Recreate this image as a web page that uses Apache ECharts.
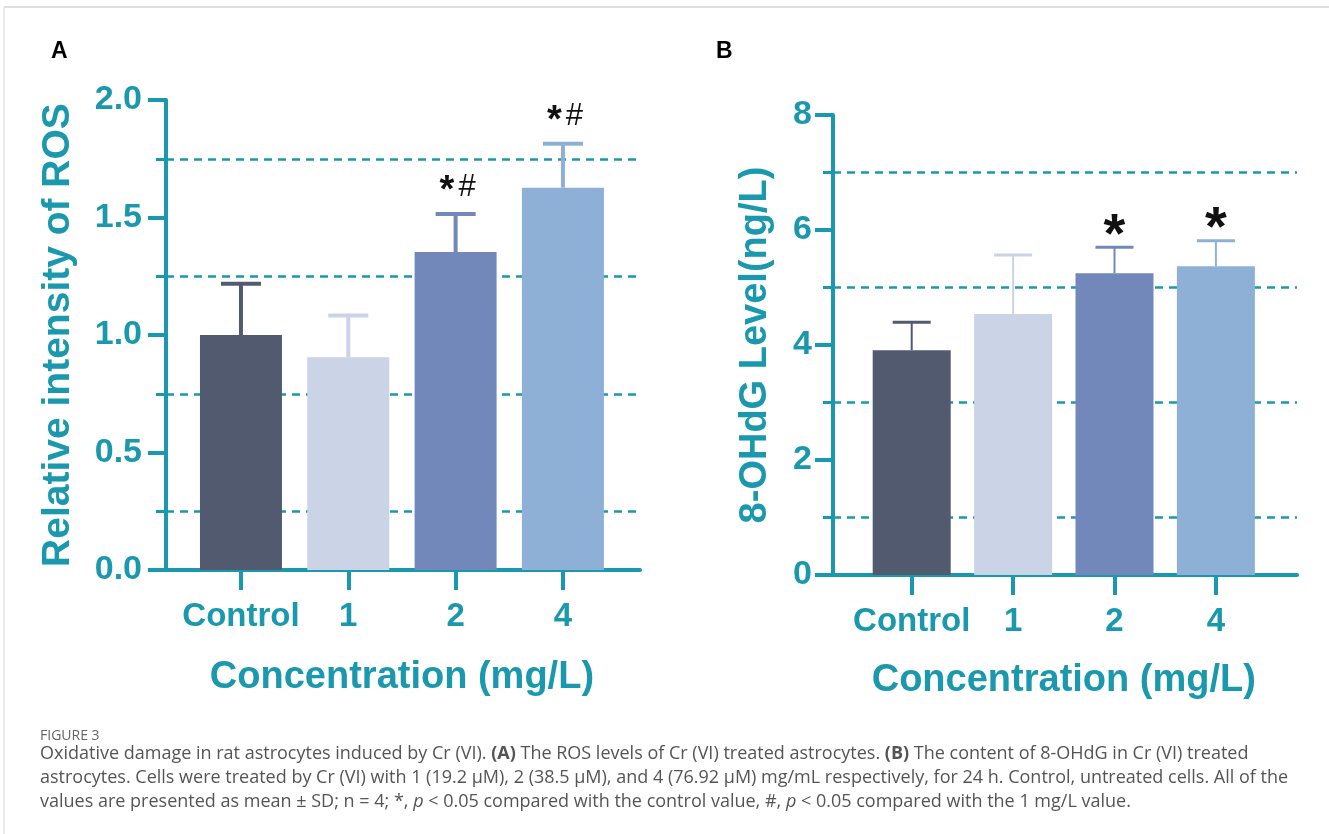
<!DOCTYPE html>
<html>
<head>
<meta charset="utf-8">
<script src="https://cdn.jsdelivr.net/npm/echarts@6/dist/echarts.min.js"></script>
<style>
html,body{margin:0;padding:0;background:#fff;}
#main{width:1329px;height:834px;}
</style>
</head>
<body>
<div id="main"></div>
<script>
// ---------------- data ----------------
const categories = ['Control', '1', '2', '4'];
const rosMean = [1.0, 0.905, 1.353, 1.627];
const rosSD = [0.218, 0.178, 0.162, 0.187];
const rosMarks = ['', '', '*#', '*#'];
const rosTicks = [0, 0.5, 1.0, 1.5, 2.0];

const ohdgMean = [3.91, 4.54, 5.25, 5.37];
const ohdgSD = [0.485, 1.025, 0.45, 0.445];
const ohdgMarks = ['', '', '*', '*'];
const ohdgTicks = [0, 2, 4, 6, 8];

const barColors = ['#525a70', '#cbd3e7', '#7287ba', '#8fb0d6'];
const teal = '#1a98ad';
const FONT = '"Liberation Sans", Arial, sans-serif';
const CAP_FONT = '"Open Sans", sans-serif';

// ------------- helpers ---------------
function errData(mean, sd) {
  return mean.map((m, i) => [i, m, +(m + sd[i]).toFixed(4)]);
}
function errRender(marks, cfg) {
  return function (params, api) {
    const i = api.value(0), m = api.value(1), u = api.value(2);
    const p0 = api.coord([i, m]);
    const p1 = api.coord([i, u]);
    const color = barColors[params.dataIndex];
    const children = [
      { type: 'line', shape: { x1: p0[0], y1: p0[1], x2: p1[0], y2: p1[1] },
        style: { stroke: color, lineWidth: cfg.stem } },
      { type: 'line', shape: { x1: p1[0] - cfg.cap / 2, y1: p1[1], x2: p1[0] + cfg.cap / 2, y2: p1[1] },
        style: { stroke: color, lineWidth: cfg.capW } }
    ];
    const mk = marks[params.dataIndex];
    if (mk) {
      children.push({
        type: 'text', x: p1[0] + (cfg.annDx || 0), y: p1[1] - cfg.annOff,
        style: cfg.annStyle(mk)
      });
    }
    return { type: 'group', children: children };
  };
}

function bgAxes(gridIndex, tickVals, name, nameGap, nameSize, labelSize, labelMargin) {
  const step = tickVals[1] - tickVals[0];
  return {
    x: {
      type: 'value', gridIndex: gridIndex, min: 0, max: 1,
      axisLine: { show: true, onZero: false, lineStyle: { color: teal, width: 4 } },
      axisTick: { show: false }, axisLabel: { show: false }, splitLine: { show: false }
    },
    y: {
      type: 'value', gridIndex: gridIndex,
      min: tickVals[0], max: tickVals[tickVals.length - 1], interval: step,
      name: name, nameLocation: 'middle', nameGap: nameGap,
      nameTextStyle: { color: teal, fontSize: nameSize, fontWeight: 'bold', fontFamily: FONT },
      axisLine: { show: true, lineStyle: { color: teal, width: 4 } },
      axisTick: { show: true, length: 18, lineStyle: { color: teal, width: 4 } },
      minorTick: { show: true, splitNumber: 2, length: 10, lineStyle: { color: teal, width: 3 } },
      minorSplitLine: { show: true, lineStyle: { color: teal, width: 2.5, type: [8, 6] } },
      splitLine: { show: false },
      axisLabel: {
        color: teal, fontSize: labelSize, fontWeight: 'bold', fontFamily: FONT, margin: labelMargin,
        formatter: function (v) { return step < 1 ? v.toFixed(1) : String(v); }
      }
    }
  };
}

function barAxes(gridIndex, tickVals, name, nameGap) {
  return {
    x: {
      type: 'category', gridIndex: gridIndex, data: categories,
      axisLine: { show: false },
      axisTick: { show: true, alignWithLabel: true, length: 20, lineStyle: { color: teal, width: 4 } },
      axisLabel: { color: teal, fontSize: 33, fontWeight: 'bold', fontFamily: FONT, margin: 30, interval: 0 },
      name: name, nameLocation: 'middle', nameGap: nameGap,
      nameTextStyle: { color: teal, fontSize: 38, fontWeight: 'bold', fontFamily: FONT },
      splitLine: { show: false }
    },
    y: {
      type: 'value', gridIndex: gridIndex, show: false,
      min: tickVals[0], max: tickVals[tickVals.length - 1],
      splitLine: { show: false }
    }
  };
}

const aBg = bgAxes(0, rosTicks, 'Relative intensity of ROS', 88, 39, 34, 24);
const aBar = barAxes(1, rosTicks, 'Concentration (mg/L)', 89);
const bBg = bgAxes(2, ohdgTicks, '8-OHdG Level(ng/L)', 58, 38, 34, 21);
const bBar = barAxes(3, ohdgTicks, 'Concentration (mg/L)', 87);

const option = {
  backgroundColor: '#ffffff',
  animation: false,
  grid: [
    { left: 166, top: 100, width: 474, height: 470 },
    { left: 187.3, top: 100, width: 429.3, height: 470 },
    { left: 833, top: 115, width: 464, height: 460 },
    { left: 861, top: 115, width: 405.6, height: 460 }
  ],
  xAxis: [aBg.x, aBar.x, bBg.x, bBar.x],
  yAxis: [aBg.y, aBar.y, bBg.y, bBar.y],
  series: [
    {
      type: 'bar', xAxisIndex: 1, yAxisIndex: 1, barWidth: 82, z: 3,
      data: rosMean.map((v, i) => ({ value: v, itemStyle: { color: barColors[i] } }))
    },
    {
      type: 'custom', xAxisIndex: 1, yAxisIndex: 1, z: 4,
      data: errData(rosMean, rosSD),
      encode: { x: 0, y: [1, 2] },
      renderItem: errRender(rosMarks, {
        stem: 4, cap: 40, capW: 4, annOff: 27, annDx: 2,
        annStyle: function (mk) {
          return {
            text: '{s|*}{h|#}', align: 'center', verticalAlign: 'middle',
            rich: {
              s: { fontSize: 38, fontWeight: 'bold', fontFamily: FONT, fill: '#111', padding: [10, 4, 0, 0] },
              h: { fontSize: 31, fontWeight: 'normal', fontFamily: FONT, fill: '#111' }
            }
          };
        }
      })
    },
    {
      type: 'bar', xAxisIndex: 3, yAxisIndex: 3, barWidth: 78, z: 3,
      data: ohdgMean.map((v, i) => ({ value: v, itemStyle: { color: barColors[i] } }))
    },
    {
      type: 'custom', xAxisIndex: 3, yAxisIndex: 3, z: 4,
      data: errData(ohdgMean, ohdgSD),
      encode: { x: 0, y: [1, 2] },
      renderItem: errRender(ohdgMarks, {
        stem: 2, cap: 38, capW: 3, annOff: 11,
        annStyle: function (mk) {
          return {
            text: mk, align: 'center', verticalAlign: 'middle',
            fontSize: 56, fontWeight: 'bold', fontFamily: FONT, fill: '#111'
          };
        }
      })
    }
  ],
  graphic: [
    { type: 'line', shape: { x1: 4, y1: 7, x2: 1329, y2: 7 }, style: { stroke: '#d4d4d4', lineWidth: 1.5 }, silent: true },
    { type: 'line', shape: { x1: 4, y1: 7, x2: 4, y2: 834 }, style: { stroke: '#e4e4e4', lineWidth: 1.5 }, silent: true },
    { type: 'text', left: 51, top: 40, style: { text: 'A', fontSize: 23, fontWeight: 'bold', fontFamily: FONT, fill: '#000' } },
    { type: 'text', left: 716, top: 40, style: { text: 'B', fontSize: 23, fontWeight: 'bold', fontFamily: FONT, fill: '#000' } },
    { type: 'text', left: 40, top: 729, style: { text: 'FIGURE 3', fontSize: 14, fontFamily: CAP_FONT, fill: '#666' } },
    { type: 'text', left: 40, top: 745, style: {
        text: 'Oxidative damage in rat astrocytes induced by Cr (VI). {b|(A)} The ROS levels of Cr (VI) treated astrocytes. {b|(B)} The content of 8-OHdG in Cr (VI) treated',
        fontSize: 18, fontFamily: CAP_FONT, fill: '#555',
        rich: { b: { fontSize: 18, fontWeight: 'bold', fontFamily: CAP_FONT, fill: '#555' } } } },
    { type: 'text', left: 40, top: 769, style: {
        text: 'astrocytes. Cells were treated by Cr (VI) with 1 (19.2 μM), 2 (38.5 μM), and 4 (76.92 μM) mg/mL respectively, for 24 h. Control, untreated cells. All of the',
        fontSize: 18, fontFamily: CAP_FONT, fill: '#555' } },
    { type: 'text', left: 40, top: 793, style: {
        text: 'values are presented as mean ± SD; n = 4; *, {i|p} < 0.05 compared with the control value, #, {i|p} < 0.05 compared with the 1 mg/L value.',
        fontSize: 18, fontFamily: CAP_FONT, fill: '#555',
        rich: { i: { fontSize: 18, fontStyle: 'italic', fontFamily: CAP_FONT, fill: '#555' } } } }
  ]
};

const chart = echarts.init(document.getElementById('main'), null, { renderer: 'canvas' });
chart.setOption(option);
</script>
</body>
</html>
